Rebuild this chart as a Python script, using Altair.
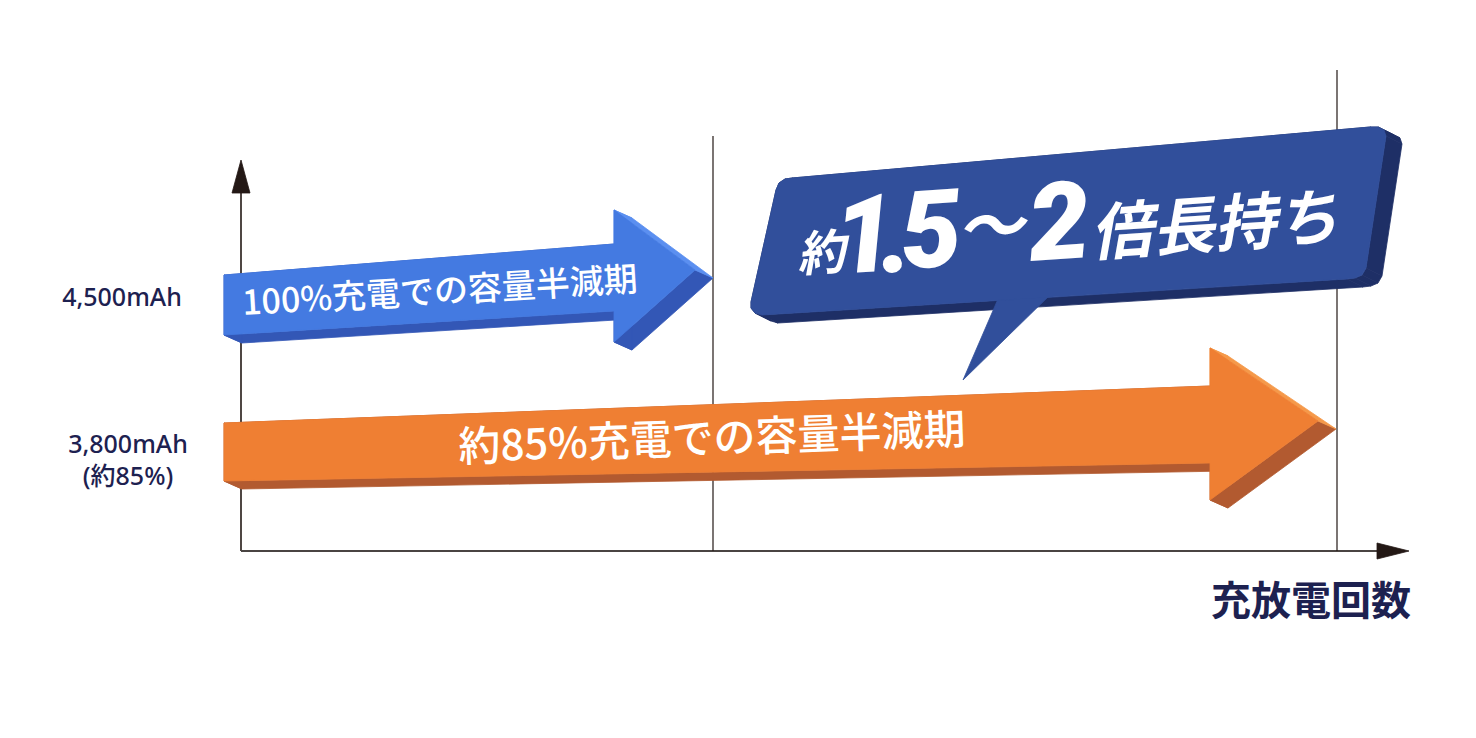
import altair as alt
import pandas as pd

# ---------------- canvas frame (reference pixel coordinates) ----------------
W, H = 1460, 714
X_DOMAIN = [8, 8 + W]
Y_DOMAIN = [8, 8 + H]

# ---------------- text content ----------------
Y_LABELS = ["4,500mAh", "3,800mAh", "(約85%)"]
Y_LABEL_X = [122, 128, 128]
Y_LABEL_Y = [298, 445, 477]

X_TITLE = "充放電回数"
X_TITLE_POS = (1311, 603)

BLUE_LABEL = "100%充電での容量半減期"
BLUE_LABEL_POS = (440, 293)
ORANGE_LABEL = "約85%充電での容量半減期"
ORANGE_LABEL_POS = (712, 440)

# callout "約1.5〜2倍長持ち", split into glyph groups
CALLOUT_PARTS = ["約", "1", ".", "5", "〜", "2", "倍長持ち"]
CALLOUT_X = [821, 865, 895, 931, 990, 1059, 1214]
CALLOUT_Y = [256, 240, 240, 235, 231, 227, 228]
CALLOUT_SIZE = [48, 108, 108, 108, 68, 108, 62]
CALLOUT_FONT = ["Noto Sans CJK JP", "Roboto", "Roboto", "Roboto", "Noto Sans CJK JP", "Roboto", "Noto Sans CJK JP"]

# ---------------- shape outlines ----------------
MARK_X = [713, 1337]          # half-life markers on the cycle axis
MARK_TOP = [136, 70]
AXIS_ORIGIN = (241, 551)
AXIS_Y_TOP = 192
AXIS_X_END = 1377

Y_HEAD_X = [241, 232, 250]
Y_HEAD_Y = [160, 193, 193]
X_HEAD_X = [1409, 1377, 1377]
X_HEAD_Y = [551, 543, 559]

BLUE_X = [224, 614, 614, 695, 614, 614, 224]
BLUE_Y = [275, 244, 210, 270, 342, 311, 335]
ORANGE_X = [224, 1210, 1210, 1318, 1210, 1210, 224]
ORANGE_Y = [423, 386, 348, 421, 500, 463, 481]
ARROW_DEPTH = (18, 8)

CALL_X = [776, 779, 785, 792, 1370, 1378, 1384, 1386, 1366, 1362, 1355, 1347, 762, 755, 751, 751]
CALL_Y = [190, 183, 179, 178, 127, 127, 130, 136, 268, 275, 278, 279, 315, 313, 308, 302]
CALL_DEPTH = (16, 8)
TAIL_X = [998, 1049, 963]
TAIL_Y = [299, 296, 380]

# ---------------- colours ----------------
BLUE_FRONT, BLUE_SIDE, BLUE_BEVEL = "#447ae1", "#3357b6", "#5b8ff0"
ORANGE_FRONT, ORANGE_SIDE, ORANGE_BEVEL = "#ef7f33", "#b25a30", "#f5994a"
NAVY_FRONT, NAVY_SIDE = "#314f9b", "#1e2f66"
INK = "#231815"
LABEL_INK = "#1d2150"

xs = alt.Scale(domain=X_DOMAIN, nice=False, zero=False)
ys = alt.Scale(domain=Y_DOMAIN, nice=False, zero=False, reverse=True)

rows = []
counter = [0]


def add_poly(px, py, color):
    k = f"p{counter[0]:03d}"
    counter[0] += 1
    pts = list(zip(px, py)) + [(px[0], py[0])]
    for i, (a, b) in enumerate(pts):
        rows.append({"key": k, "i": i, "x": a, "y": b, "fill": color})


def add_extruded(px, py, depth, side, bevel=None, bevel_edges=()):
    dx, dy = depth
    n = len(px)
    faces = []
    for i in range(n):
        j = (i + 1) % n
        qx = [px[i], px[j], px[j] + dx, px[i] + dx]
        qy = [py[i], py[j], py[j] + dy, py[i] + dy]
        faces.append((i in bevel_edges, qx, qy))
    for is_bevel, qx, qy in faces:
        if not is_bevel:
            add_poly(qx, qy, side)
    for is_bevel, qx, qy in faces:
        if is_bevel:
            add_poly(qx, qy, bevel)


# axis arrowheads
add_poly(Y_HEAD_X, Y_HEAD_Y, INK)
add_poly(X_HEAD_X, X_HEAD_Y, INK)
# orange arrow
add_extruded(ORANGE_X, ORANGE_Y, ARROW_DEPTH, ORANGE_SIDE, ORANGE_BEVEL, (1, 2))
add_poly(ORANGE_X, ORANGE_Y, ORANGE_FRONT)
# blue arrow
add_extruded(BLUE_X, BLUE_Y, ARROW_DEPTH, BLUE_SIDE, BLUE_BEVEL, (1, 2))
add_poly(BLUE_X, BLUE_Y, BLUE_FRONT)
# callout
add_extruded(CALL_X, CALL_Y, CALL_DEPTH, NAVY_SIDE)
add_poly(TAIL_X, TAIL_Y, NAVY_FRONT)
add_poly(CALL_X, CALL_Y, NAVY_FRONT)

poly_df = pd.DataFrame(rows)

rules_df = pd.DataFrame({
    "x": [AXIS_ORIGIN[0], AXIS_ORIGIN[0]] + MARK_X,
    "y": [AXIS_Y_TOP, AXIS_ORIGIN[1]] + MARK_TOP,
    "x2": [AXIS_ORIGIN[0], AXIS_X_END] + MARK_X,
    "y2": [AXIS_ORIGIN[1], AXIS_ORIGIN[1]] + [AXIS_ORIGIN[1]] * len(MARK_X),
    "c": [INK, "#4a4442", INK, INK],
    "w": [1.6, 2.2, 1.2, 1.2],
})

rules = alt.Chart(rules_df).mark_rule().encode(
    x=alt.X("x:Q", scale=xs, axis=None),
    y=alt.Y("y:Q", scale=ys, axis=None),
    x2="x2:Q",
    y2="y2:Q",
    color=alt.Color("c:N", scale=None),
    strokeWidth=alt.StrokeWidth("w:Q", scale=None),
)

polys = alt.Chart(poly_df).mark_line(strokeWidth=0.8, strokeJoin="round").encode(
    x=alt.X("x:Q", scale=xs, axis=None),
    y=alt.Y("y:Q", scale=ys, axis=None),
    detail="key:N",
    order=alt.Order("i:Q"),
    fill=alt.Fill("fill:N", scale=None),
    stroke=alt.Stroke("fill:N", scale=None),
)


def text_layer(text, x, y, size, font, weight, color, angle=0, style="normal"):
    df = pd.DataFrame({"t": [text], "x": [x], "y": [y]})
    kw = dict(align="center", baseline="middle", fontSize=size, font=font,
              fontWeight=weight, color=color, fontStyle=style)
    if angle:
        kw["angle"] = angle
    return alt.Chart(df).mark_text(**kw).encode(
        x=alt.X("x:Q", scale=xs, axis=None),
        y=alt.Y("y:Q", scale=ys, axis=None),
        text="t:N",
    )


texts = []
for t, x, y in zip(Y_LABELS, Y_LABEL_X, Y_LABEL_Y):
    texts.append(text_layer(t, x, y, 25, "Noto Sans, Noto Sans CJK JP", 500, LABEL_INK))
texts.append(text_layer(X_TITLE, X_TITLE_POS[0], X_TITLE_POS[1], 40, "Noto Sans CJK JP", "bold", LABEL_INK))
texts.append(text_layer(BLUE_LABEL, BLUE_LABEL_POS[0], BLUE_LABEL_POS[1], 34, "Noto Sans CJK JP", 500, "white", 356.5))
texts.append(text_layer(ORANGE_LABEL, ORANGE_LABEL_POS[0], ORANGE_LABEL_POS[1], 42, "Noto Sans CJK JP", 500, "white", 358))
for t, x, y, s, f in zip(CALLOUT_PARTS, CALLOUT_X, CALLOUT_Y, CALLOUT_SIZE, CALLOUT_FONT):
    texts.append(text_layer(t, x, y, s, f, 900 if f == "Roboto" else "bold", "white", 356, "italic"))

chart = alt.layer(rules, polys, *texts).properties(
    width=W, height=H, padding=0,
    autosize=alt.AutoSizeParams(type="none"),
    background="white",
).configure_view(strokeWidth=0)

chart.save("out.html", embed_options={"renderer": "svg", "actions": False})
